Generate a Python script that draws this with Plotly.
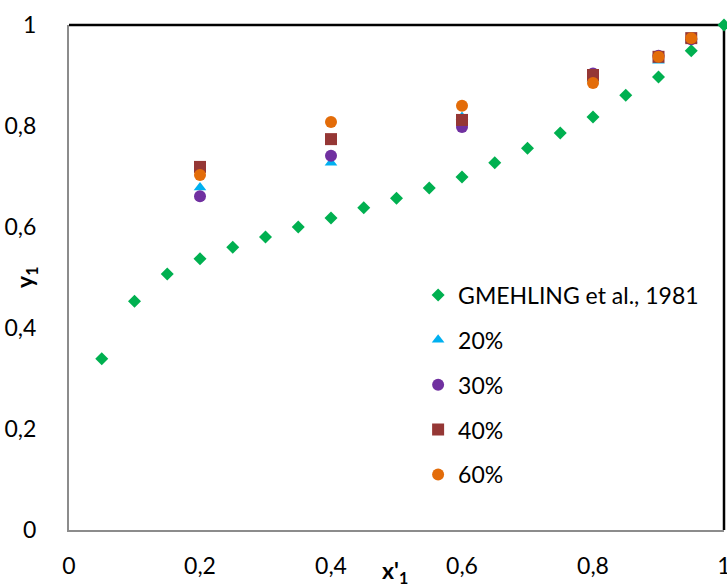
import plotly.graph_objects as go

gm_x = [0.05, 0.10, 0.15, 0.20, 0.25, 0.30, 0.35, 0.40, 0.45, 0.50,
        0.55, 0.60, 0.65, 0.70, 0.75, 0.80, 0.85, 0.90, 0.95, 1.00]
gm_y = [0.339, 0.453, 0.507, 0.537, 0.560, 0.580, 0.600, 0.618, 0.638, 0.657,
        0.677, 0.699, 0.727, 0.756, 0.786, 0.818, 0.861, 0.897, 0.949, 1.000]

exp_x = [0.2, 0.4, 0.6, 0.8, 0.9, 0.95]
y20 = [0.678, 0.727, 0.818, 0.893, 0.929, 0.970]
y30 = [0.661, 0.741, 0.798, 0.904, 0.939, 0.972]
y40 = [0.719, 0.774, 0.812, 0.901, 0.937, 0.974]
y60 = [0.703, 0.808, 0.840, 0.885, 0.937, 0.974]

tick_vals = [0, 0.2, 0.4, 0.6, 0.8, 1]

fig = go.Figure()
fig.add_trace(go.Scatter(x=gm_x, y=gm_y, mode="markers", name="GMEHLING et al., 1981",
                         legendgroup="a", cliponaxis=False,
                         marker=dict(symbol="diamond", size=10, color="#00B050")))
fig.add_trace(go.Scatter(x=exp_x, y=y20, mode="markers", name="20%", legendgroup="b",
                         marker=dict(symbol="triangle-up", size=11, color="#00B0F0")))
fig.add_trace(go.Scatter(x=exp_x, y=y30, mode="markers", name="30%", legendgroup="c",
                         marker=dict(symbol="circle", size=12, color="#7030A0")))
fig.add_trace(go.Scatter(x=exp_x, y=y40, mode="markers", name="40%", legendgroup="d",
                         marker=dict(symbol="square", size=12, color="#953735")))
fig.add_trace(go.Scatter(x=exp_x, y=y60, mode="markers", name="60%", legendgroup="e",
                         marker=dict(symbol="circle", size=12, color="#E36C09")))

axis_font = dict(family="Lato, Carlito, Calibri, sans-serif", size=23, color="#000000")

fig.update_layout(
    width=727, height=585,
    margin=dict(l=69, r=3, t=25, b=55, autoexpand=False),
    paper_bgcolor="white", plot_bgcolor="white",
    separators=", ",
    font=axis_font,
    showlegend=True,
    legend=dict(x=0.533, y=0.508, xanchor="left", yanchor="top",
                bgcolor="rgba(0,0,0,0)", font=axis_font, tracegroupgap=12),
    xaxis=dict(range=[0, 1], tickvals=tick_vals, showgrid=False, zeroline=False,
               showline=True, linecolor="#8c8c8c", linewidth=2, ticks="",
               automargin=False,
               ticklabelstandoff=14, ticklabeloverflow="allow", tickfont=axis_font),
    yaxis=dict(range=[0, 1], tickvals=tick_vals, showgrid=False, zeroline=False,
               showline=True, linecolor="#8c8c8c", linewidth=2, ticks="",
               automargin=False,
               ticklabelstandoff=26, tickfont=axis_font),
    shapes=[
        dict(type="line", xref="paper", yref="paper", x0=0, x1=1, y0=1, y1=1,
             line=dict(color="black", width=2.5), layer="below"),
        dict(type="line", xref="paper", yref="paper", x0=1, x1=1, y0=0, y1=1,
             line=dict(color="black", width=2.5), layer="below"),
    ],
    annotations=[
        dict(text="<b>y<sub>1</sub></b>", xref="paper", yref="paper",
             x=(25 - 69) / 655, y=(530 - 278) / 505, showarrow=False,
             xanchor="center", yanchor="middle",
             textangle=-90, font=axis_font),
        dict(text="<b>x'<sub>1</sub></b>", xref="paper", yref="paper",
             x=(395 - 69) / 655, y=(530 - 571) / 505, showarrow=False,
             xanchor="center", yanchor="middle",
             font=axis_font),
    ],
)

fig.write_html("out.html")
